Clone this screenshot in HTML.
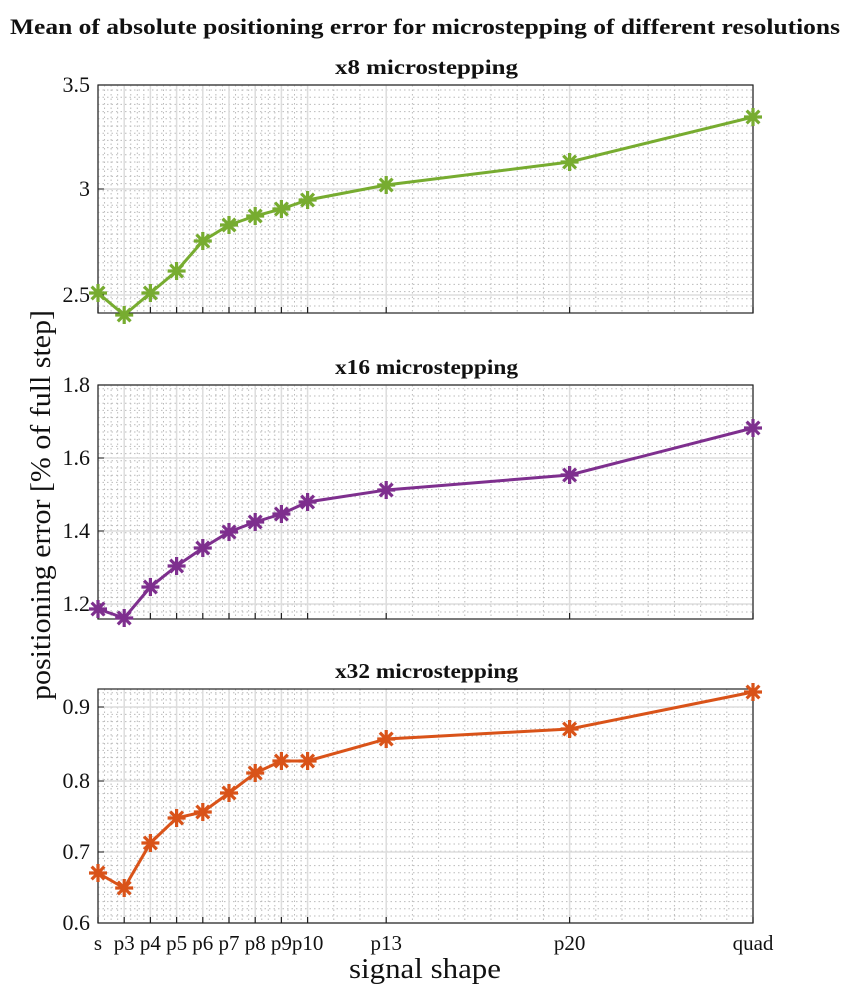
<!DOCTYPE html>
<html><head><meta charset="utf-8"><style>
body{margin:0;background:#fff}
text{font-family:"Liberation Serif",serif;fill:#111}
</style></head><body>
<svg width="847" height="1000" xmlns="http://www.w3.org/2000/svg" id="s">
<text x="10" y="34" font-size="22" font-weight="bold" textLength="830" lengthAdjust="spacingAndGlyphs">Mean of absolute positioning error for microstepping of different resolutions</text>
<g id="g"></g>
<text transform="translate(50,505) rotate(-90)" font-size="28" text-anchor="middle" textLength="390" lengthAdjust="spacingAndGlyphs">positioning error [% of full step]</text>
<text x="425" y="978" font-size="28" text-anchor="middle" textLength="152" lengthAdjust="spacingAndGlyphs">signal shape</text>
</svg>
<script>
const NS="http://www.w3.org/2000/svg",g=document.getElementById('g');
function el(t,a,txt){const e=document.createElementNS(NS,t);for(const k in a)e.setAttribute(k,a[k]);if(txt!=null)e.textContent=txt;g.appendChild(e);return e;}
const X0=98,X1=753,U=26.2;
const xn=[2,3,4,5,6,7,8,9,10,13,20,27],xl=['s','p3','p4','p5','p6','p7','p8','p9','p10','p13','p20','quad'];
const xp=n=>X0+(n-2)*U;
const panels=[
{t:'x8 microstepping',top:85,bot:313,ticks:[[3.5,85],[3,189],[2.5,295]],col:'#77ac30',
 d:[293,315,293,271,241,225,216,209,200,185,162,117]},
{t:'x16 microstepping',top:385,bot:619,ticks:[[1.8,385],[1.6,458],[1.4,531],[1.2,604]],col:'#7e2f8e',
 d:[609,618,587,566,548,532,522,514,502,490,475,428]},
{t:'x32 microstepping',top:689,bot:923,ticks:[[0.9,707],[0.8,781],[0.7,852],[0.6,923]],col:'#d95319',
 d:[873,888,843,818,812,793,773,761,761,739,729,692]}];
panels.forEach((p,pi)=>{
 for(let y=p.bot-7;y>p.top;y-=7.2) el('line',{x1:X0,x2:X1,y1:y,y2:y,stroke:'#bbb','stroke-width':1,'stroke-dasharray':'1.5,3'});
 for(let x=X0+U/4;x<xp(10);x+=U/4) el('line',{x1:x,x2:x,y1:p.top,y2:p.bot,stroke:'#bbb','stroke-width':1,'stroke-dasharray':'1.5,3'});
 for(let n=11;n<27;n++) el('line',{x1:xp(n),x2:xp(n),y1:p.top,y2:p.bot,stroke:'#bbb','stroke-width':1,'stroke-dasharray':'1.5,3'});
 xn.forEach(n=>el('line',{x1:xp(n),x2:xp(n),y1:p.top,y2:p.bot,stroke:'#ddd','stroke-width':1.5}));
 p.ticks.forEach(([v,y])=>{el('line',{x1:X0,x2:X1,y1:y,y2:y,stroke:'#ddd','stroke-width':1.5});
  el('line',{x1:X0,x2:X0+6,y1:y,y2:y,stroke:'#222','stroke-width':1});
  el('text',{x:X0-8,y:y+7,'font-size':22,'text-anchor':'end'},String(v));});
 xn.forEach(n=>el('line',{x1:xp(n),x2:xp(n),y1:p.bot,y2:p.bot-6,stroke:'#222','stroke-width':1.2}));
 el('rect',{x:X0,y:p.top,width:X1-X0,height:p.bot-p.top,fill:'none',stroke:'#222','stroke-width':1.2});
 el('text',{x:335,y:p.top-11,'font-size':21,'font-weight':'bold',textLength:183,lengthAdjust:'spacingAndGlyphs'},p.t);
 const pts=p.d.map((y,i)=>[xp(xn[i]),y]);
 el('polyline',{points:pts.map(q=>q.join(',')).join(' '),fill:'none',stroke:p.col,'stroke-width':3});
 pts.forEach(([x,y])=>{for(let a=0;a<4;a++){const r=9,an=a*Math.PI/4;
  el('line',{x1:x-r*Math.cos(an),y1:y-r*Math.sin(an),x2:x+r*Math.cos(an),y2:y+r*Math.sin(an),stroke:p.col,'stroke-width':3.2});}});
 if(pi==2) xn.forEach((n,i)=>el('text',{x:xp(n),y:950,'font-size':21,'text-anchor':'middle'},xl[i]));
});
</script>
</body></html>
